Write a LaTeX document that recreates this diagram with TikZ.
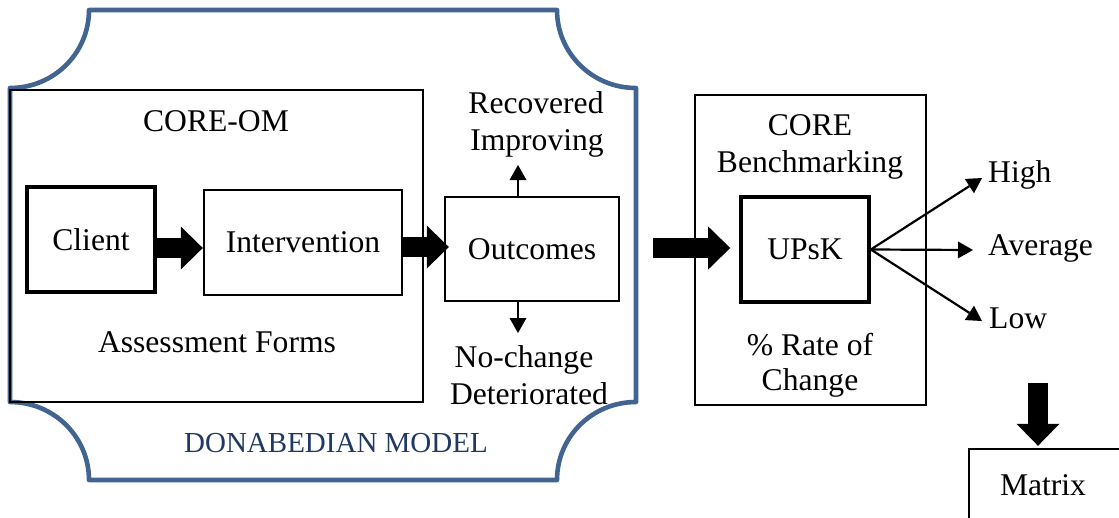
\documentclass[tikz,border=0pt]{standalone}
\usepackage{fontspec}
\setmainfont{Liberation Serif}
\usetikzlibrary{arrows.meta,calc}
\definecolor{frameblue}{RGB}{65,100,145}
\definecolor{labelblue}{RGB}{31,56,100}

\begin{document}
\begin{tikzpicture}[x=1pt,y=-1pt,
  every node/.style={font=\fontsize{31.6}{37}\selectfont, inner sep=0pt},
  box/.style={draw, line width=2.4pt},
  heavybox/.style={draw, line width=3.6pt},
  txt/.style={anchor=base},
  blockarrow/.style={line width=20pt, -{Triangle[length=22pt,width=43pt,line width=0pt]}},
  thinarrow/.style={line width=2.2pt, -{Triangle[length=15pt,width=17pt,line width=0pt]}}]

\clip (0,0) rectangle (1119,517);
\fill[white] (0,0) rectangle (1119,517);

% outer frame with concave corners
\draw[frameblue, line width=4.6pt, line join=round]
  (89,10) -- (557,10)
  .. controls (557,53) and (592,88) .. (636,88)
  -- (636,402)
  .. controls (592,402) and (557,437) .. (557,480)
  -- (89,480)
  .. controls (89,437) and (54,402) .. (10,402)
  -- (10,88)
  .. controls (54,88) and (89,53) .. (89,10) -- cycle;
\node[txt, font=\fontsize{29}{34}\selectfont, text=labelblue] (donabedian) at (336,452) {DONABEDIAN MODEL};

% CORE-OM block
\node[box, minimum width=413pt, minimum height=312pt] (coreom) at (216.5,246) {};
\node[txt] (coreomlabel) at (216,131) {CORE-OM};
\node[txt] (forms) at (217,352) {Assessment Forms};
\node[heavybox, minimum width=128pt, minimum height=105pt] (client) at (91,239.5) {Client};
\node[box, minimum width=198pt, minimum height=105pt] (interv) at (303,242.5) {Intervention};

% outcomes
\node[box, minimum width=174pt, minimum height=104pt] (out) at (532,249) {Outcomes};
\node[txt] (recovered) at (536,113) {Recovered};
\node[txt] (improving) at (537,150) {Improving};
\node[txt] (nochange) at (524,367) {No-change};
\node[txt] (deteriorated) at (529,404) {Deteriorated};

% benchmarking block
\node[box, minimum width=231pt, minimum height=310pt] (core) at (810.5,250) {};
\node[txt] (corelabel) at (810,135) {CORE};
\node[txt] (bench) at (810,172) {Benchmarking};
\node[txt] (rate) at (810,355) {\% Rate of};
\node[txt] (change) at (810,390) {Change};
\node[heavybox, minimum width=128pt, minimum height=105pt] (upsk) at (805,249.5) {UPsK};

\node[txt, anchor=base west] (high) at (988,182) {High};
\node[txt, anchor=base west] (average) at (988,255) {Average};
\node[txt, anchor=base west] (low) at (989,328) {Low};

% matrix
\node[box, minimum width=161pt, minimum height=111pt] (matrix) at (1049.5,504.5) {};
\node[txt] (matrixlabel) at (1043,495) {Matrix};

% connectors
\coordinate (row1) at (0,248);
\coordinate (row2) at (0,247);
\coordinate (feed) at (653,248);
\coordinate (drop) at (1038,383);
\coordinate (up) at (518,165);
\coordinate (dn) at (518,333);
\coordinate (hi) at (982,178);
\coordinate (av) at (973,250);
\coordinate (lo) at (982,321);

\draw[blockarrow] (client.east |- row1) -- (interv.west |- row1);
\draw[blockarrow] (interv.east |- row2) -- ($(out.west |- row2)+(5,0)$);
\draw[blockarrow] (feed) -- ($(upsk.west |- feed)+(-9,0)$);
\draw[blockarrow] (drop) -- ($(drop |- matrix.north)+(0,-2)$);

\draw[thinarrow] (out.north -| up) -- (up);
\draw[thinarrow] (out.south -| dn) -- (dn);
\draw[thinarrow] (upsk.east) -- (hi);
\draw[thinarrow] (upsk.east) -- (av);
\draw[thinarrow] (upsk.east) -- (lo);
\end{tikzpicture}
\end{document}
